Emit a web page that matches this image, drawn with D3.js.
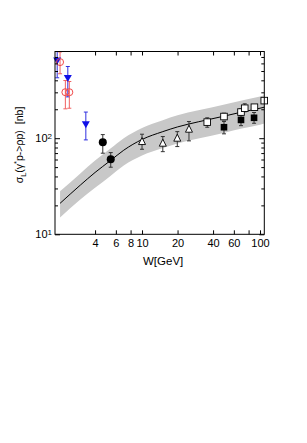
<!DOCTYPE html>
<html>
<head>
<meta charset="utf-8">
<script src="https://cdn.jsdelivr.net/npm/d3@7"></script>
<style>
  body { margin: 0; background: #fff; }
  svg { display: block; font-family: "Liberation Sans", Arial, sans-serif; }
  .tick line { stroke: #000; }
  .tick text { font-size: 11px; fill: #000; }
</style>
</head>
<body>
<div id="chart"></div>
<script>
// model curve and its uncertainty band
var curveW    = [2.02, 3.0, 4.0, 5.4, 7.0, 10, 15, 20, 30, 50, 70, 100, 110];
var curveVal  = [21, 32.5, 44, 58.5, 75, 97, 117, 131, 148, 170, 187, 205, 211];
var bandHigh  = [28, 43, 58.5, 78, 100, 128, 154, 173, 195, 224, 247, 272, 281];
var bandLow   = [15, 23, 30.5, 40.5, 52, 66, 79, 88, 99, 114, 126, 138, 142];

// data sets: W, value, error top, error bottom
var blueW   = [1.91, 2.35, 3.34];
var blueVal = [643, 422, 140];
var blueHi  = [900, 557, 187];
var blueLo  = [425, 269, 96];

var redW   = [2.02, 2.24, 2.42];
var redVal = [619, 301, 301];
var redHi  = [790, 398, 389];
var redLo  = [468, 202, 205];

var blackCircW   = [4.65, 5.43];
var blackCircVal = [90.8, 60.4];
var blackCircHi  = [109, 70.8];
var blackCircLo  = [69.8, 49.9];

var triW   = [10, 15, 19.9, 25];
var triVal = [92.3, 88.7, 100, 124];
var triHi  = [110, 104, 117, 149];
var triLo  = [76.7, 72.4, 81.8, 93.8];

var openSqW   = [35.7, 49.5, 69, 74.2, 89.6, 108.6];
var openSqVal = [147, 168, 187, 205, 210, 246];
var openSqHi  = [163, 182, 202, 228, 222, 262];
var openSqLo  = [130, 155, 173, 188, 199, 232];

var blackSqW   = [49.5, 69, 89];
var blackSqVal = [130, 155, 163];
var blackSqHi  = [149, 178, 185];
var blackSqLo  = [111, 135, 143];

var xTicks = [4, 6, 8, 10, 20, 40, 60, 80, 100];
var xLabels = ["4", "6", "8", "10", "20", "40", "60", "", "100"];
var yMajor = [10, 100];
var yMinor = [20, 30, 40, 50, 60, 70, 80, 90, 200, 300, 400, 500, 600, 700];

var width = 307, height = 443;
var pLeft = 55, pRight = 264.3, pTop = 51.5, pBottom = 234.3;

var svg = d3.select("#chart").append("svg")
  .attr("width", width)
  .attr("height", height);

var x = d3.scaleLog().domain([1.83, 108.7]).range([pLeft, pRight]);
var y = d3.scaleLog().domain([10, 798]).range([pBottom, pTop]);

svg.append("clipPath").attr("id", "plotclip")
  .append("rect")
  .attr("x", pLeft).attr("y", pTop)
  .attr("width", pRight - pLeft).attr("height", pBottom - pTop);

var plot = svg.append("g").attr("clip-path", "url(#plotclip)");

// band
var band = curveW.map(function(w, i) { return {w: w, hi: bandHigh[i], lo: bandLow[i]}; });
plot.append("path")
  .datum(band)
  .attr("fill", "#c8c8c8")
  .attr("d", d3.area()
    .x(function(d) { return x(d.w); })
    .y0(function(d) { return y(d.lo); })
    .y1(function(d) { return y(d.hi); })
    .curve(d3.curveMonotoneX));

var line = curveW.map(function(w, i) { return {w: w, v: curveVal[i]}; });
plot.append("path")
  .datum(line)
  .attr("fill", "none")
  .attr("stroke", "#000")
  .attr("stroke-width", 1)
  .attr("d", d3.line()
    .x(function(d) { return x(d.w); })
    .y(function(d) { return y(d.v); })
    .curve(d3.curveMonotoneX));

function pack(ws, vs, hs, ls) {
  return ws.map(function(w, i) { return {w: w, v: vs[i], hi: hs[i], lo: ls[i]}; });
}

function errBars(data, color) {
  var g = plot.append("g").attr("stroke", color).attr("stroke-width", 1);
  g.selectAll("line.v").data(data).enter().append("line")
    .attr("x1", function(d) { return x(d.w); })
    .attr("x2", function(d) { return x(d.w); })
    .attr("y1", function(d) { return y(d.hi); })
    .attr("y2", function(d) { return y(d.lo); });
  g.selectAll("line.t").data(data).enter().append("line")
    .attr("x1", function(d) { return x(d.w) - 2; })
    .attr("x2", function(d) { return x(d.w) + 2; })
    .attr("y1", function(d) { return y(d.hi); })
    .attr("y2", function(d) { return y(d.hi); });
  g.selectAll("line.b").data(data).enter().append("line")
    .attr("x1", function(d) { return x(d.w) - 2; })
    .attr("x2", function(d) { return x(d.w) + 2; })
    .attr("y1", function(d) { return y(d.lo); })
    .attr("y2", function(d) { return y(d.lo); });
}

var blue = pack(blueW, blueVal, blueHi, blueLo);
var red = pack(redW, redVal, redHi, redLo);
var blackC = pack(blackCircW, blackCircVal, blackCircHi, blackCircLo);
var tri = pack(triW, triVal, triHi, triLo);
var openSq = pack(openSqW, openSqVal, openSqHi, openSqLo);
var blackSq = pack(blackSqW, blackSqVal, blackSqHi, blackSqLo);

errBars(blue, "#3030e0");
errBars(red, "#f06060");
errBars(blackC, "#333");
errBars(tri, "#333");
errBars(openSq, "#333");
errBars(blackSq, "#333");

var marks = svg.append("g");

// blue down triangles
marks.selectAll("path.blue").data(blue).enter().append("path")
  .attr("d", function(d) {
    var cx = x(d.w), cy = y(d.v);
    return "M" + (cx - 4) + "," + (cy - 3) + "L" + (cx + 4) + "," + (cy - 3) + "L" + cx + "," + (cy + 4) + "Z";
  })
  .attr("fill", "#1010e8");

// red open circles
marks.selectAll("circle.red").data(red).enter().append("circle")
  .attr("cx", function(d) { return x(d.w); })
  .attr("cy", function(d) { return y(d.v); })
  .attr("r", 3.5)
  .attr("fill", "none")
  .attr("stroke", "#f04848")
  .attr("stroke-width", 1);

// black circles
marks.selectAll("circle.blk").data(blackC).enter().append("circle")
  .attr("cx", function(d) { return x(d.w); })
  .attr("cy", function(d) { return y(d.v); })
  .attr("r", 4)
  .attr("fill", "#000");

// open up triangles
marks.selectAll("path.tri").data(tri).enter().append("path")
  .attr("d", function(d) {
    var cx = x(d.w), cy = y(d.v);
    return "M" + cx + "," + (cy - 4) + "L" + (cx + 3.5) + "," + (cy + 3) + "L" + (cx - 3.5) + "," + (cy + 3) + "Z";
  })
  .attr("fill", "#fff")
  .attr("stroke", "#000")
  .attr("stroke-width", 0.9);

// open squares
marks.selectAll("rect.osq").data(openSq).enter().append("rect")
  .attr("x", function(d) { return x(d.w) - 3.3; })
  .attr("y", function(d) { return y(d.v) - 3.3; })
  .attr("width", 6.6).attr("height", 6.6)
  .attr("fill", "#fff")
  .attr("stroke", "#000")
  .attr("stroke-width", 0.9);

// filled squares
marks.selectAll("rect.bsq").data(blackSq).enter().append("rect")
  .attr("x", function(d) { return x(d.w) - 3.3; })
  .attr("y", function(d) { return y(d.v) - 3.3; })
  .attr("width", 6.6).attr("height", 6.6)
  .attr("fill", "#000");

// frame
svg.append("rect")
  .attr("x", pLeft).attr("y", pTop)
  .attr("width", pRight - pLeft).attr("height", pBottom - pTop)
  .attr("fill", "none").attr("stroke", "#000").attr("stroke-width", 1);

// x axes (ticks inward)
var xAxis = d3.axisBottom(x)
  .tickValues(xTicks)
  .tickSizeInner(-4).tickSizeOuter(0).tickPadding(5)
  .tickFormat(function(d, i) { return xLabels[i]; });
svg.append("g").attr("transform", "translate(0," + pBottom + ")").call(xAxis)
  .call(function(g) { g.select(".domain").remove(); });

svg.append("g").attr("transform", "translate(0," + pTop + ")")
  .call(d3.axisTop(x).tickValues(xTicks).tickSizeInner(-4).tickSizeOuter(0).tickFormat(""))
  .call(function(g) { g.select(".domain").remove(); });

// y axes major
var yAxis = d3.axisLeft(y).tickValues(yMajor)
  .tickSizeInner(-5).tickSizeOuter(0).tickPadding(3)
  .tickFormat(function() { return ""; });
var yg = svg.append("g").attr("transform", "translate(" + pLeft + ",0)").call(yAxis);
yg.select(".domain").remove();
yg.selectAll(".tick text").each(function(d) {
  var t = d3.select(this);
  t.append("tspan").text("10");
  t.append("tspan").attr("dy", "-0.45em").attr("font-size", "8px").text(Math.round(Math.log10(d)));
});

svg.append("g").attr("transform", "translate(" + pRight + ",0)")
  .call(d3.axisRight(y).tickValues(yMajor).tickSizeInner(-5).tickSizeOuter(0).tickFormat(""))
  .call(function(g) { g.select(".domain").remove(); });

// y minor ticks
svg.append("g").attr("transform", "translate(" + pLeft + ",0)")
  .call(d3.axisLeft(y).tickValues(yMinor).tickSizeInner(-3).tickSizeOuter(0).tickFormat(""))
  .call(function(g) { g.select(".domain").remove(); });
svg.append("g").attr("transform", "translate(" + pRight + ",0)")
  .call(d3.axisRight(y).tickValues(yMinor).tickSizeInner(-3).tickSizeOuter(0).tickFormat(""))
  .call(function(g) { g.select(".domain").remove(); });

// axis titles
svg.append("text")
  .attr("x", 143).attr("y", 265)
  .attr("font-size", "11.5px")
  .text("W[GeV]");

var yl = svg.append("text")
  .attr("transform", "translate(23,145) rotate(-90)")
  .attr("text-anchor", "middle")
  .attr("font-size", "10.5px");
yl.append("tspan").text("σ");
yl.append("tspan").attr("dy", "3").attr("font-size", "7.5px").text("L");
yl.append("tspan").attr("dy", "-3").text("(γ");
yl.append("tspan").attr("dy", "-4").attr("font-size", "7.5px").text("*");
yl.append("tspan").attr("dy", "4").text("p->ρp)");
yl.append("tspan").attr("dx", "6").text("[nb]");
</script>
</body>
</html>
